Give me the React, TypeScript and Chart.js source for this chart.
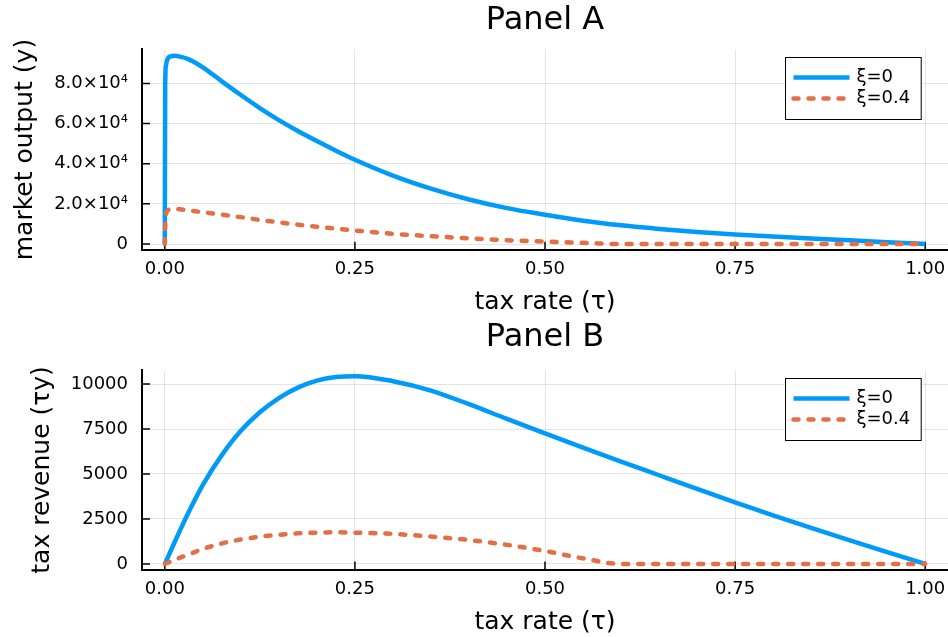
import React, { useEffect, useRef } from 'react';
import { Chart, registerables } from 'chart.js';

Chart.register(...registerables);

// ---- data ----
const tau = [0, 0.0005, 0.0015, 0.004, 0.008, 0.013, 0.02, 0.03, 0.05, 0.075, 0.1, 0.125, 0.15, 0.175, 0.2, 0.225, 0.25, 0.3, 0.35, 0.4, 0.45, 0.5, 0.55, 0.6, 0.65, 0.7, 0.75, 0.8, 0.85, 0.9, 0.95, 1.0];
const outputXi0 = [0, 79000, 89000, 92500, 93500, 93700, 93300, 92200, 88000, 81000, 74200, 67700, 61700, 56300, 51300, 46500, 42000, 34100, 27600, 22200, 17900, 14600, 11600, 9300, 7500, 6000, 4800, 3750, 2800, 1870, 930, 0];
const outputXi04 = [0, 9000, 14500, 16800, 17300, 17400, 17300, 16800, 15850, 14600, 13400, 12000, 10800, 9650, 8650, 7650, 6750, 5100, 3900, 2850, 1900, 1200, 600, 0, 0, 0, 0, 0, 0, 0, 0, 0];
const revenueXi0 = [0, 40, 134, 370, 748, 1218, 1866, 2766, 4400, 6050, 7400, 8430, 9220, 9800, 10190, 10390, 10440, 10160, 9640, 8880, 8060, 7260, 6470, 5690, 4930, 4170, 3420, 2700, 2000, 1320, 660, 0];
const revenueXi04 = [0, 5, 22, 67, 138, 226, 346, 504, 830, 1140, 1360, 1510, 1620, 1700, 1740, 1760, 1740, 1670, 1520, 1330, 1060, 720, 310, 0, 0, 0, 0, 0, 0, 0, 0, 0];
const seriesLabels = ['ξ=0', 'ξ=0.4'];
const xTicks = [0, 0.25, 0.5, 0.75, 1.0];
const outputTicks = [0, 20000, 40000, 60000, 80000];
const revenueTicks = [0, 2500, 5000, 7500, 10000];

const FAMILY = "'DejaVu Sans', 'Liberation Sans', sans-serif";
const BLUE = '#009AFA';
const ORANGE = '#E36F47';

type PanelCfg = {
  title: string;
  ylabel: string;
  s0: number[];
  s1: number[];
  yTicks: number[];
  yMin: number;
  yMax: number;
  yFmt: (v: number) => string;
  padTop: number;
  xHeight: number;
  titleY: number;
  xTitlePad: number;
  yTitlePad: number;
};

function makeDecor(p: PanelCfg) {
  return {
    id: 'decor',
    beforeDatasetsDraw(chart: any) {
      const { ctx, chartArea: ca, scales } = chart;
      ctx.save();
      ctx.strokeStyle = '#000';
      ctx.lineWidth = 1.5;
      ctx.beginPath();
      for (const v of xTicks) {
        const px = scales.x.getPixelForValue(v);
        ctx.moveTo(px, ca.bottom);
        ctx.lineTo(px, ca.bottom - 8);
      }
      for (const v of p.yTicks) {
        const py = scales.y.getPixelForValue(v);
        ctx.moveTo(ca.left, py);
        ctx.lineTo(ca.left + 8, py);
      }
      ctx.stroke();
      ctx.restore();
    },
    afterDraw(chart: any) {
      const { ctx, chartArea: ca } = chart;
      ctx.save();
      // title
      ctx.fillStyle = '#000';
      ctx.font = `32px ${FAMILY}`;
      ctx.textAlign = 'center';
      ctx.textBaseline = 'middle';
      ctx.fillText(p.title, (ca.left + ca.right) / 2, p.titleY);
      // legend
      const w = 135.7;
      const h = 62;
      const x0 = Math.round(ca.right - 27 - w) + 0.5;
      const y0 = Math.round(ca.top + 7.5) + 0.5;
      ctx.fillStyle = '#fff';
      ctx.fillRect(x0, y0, w, h);
      ctx.strokeStyle = '#000';
      ctx.lineWidth = 1;
      ctx.strokeRect(x0, y0, w, h);
      chart.data.datasets.forEach((ds: any, i: number) => {
        const ly = y0 + 20 + i * 21;
        ctx.save();
        ctx.strokeStyle = ds.borderColor;
        ctx.lineWidth = ds.borderWidth;
        ctx.lineCap = ds.borderCapStyle || 'butt';
        ctx.setLineDash(ds.borderDash || []);
        ctx.beginPath();
        ctx.moveTo(x0 + 8, ly);
        ctx.lineTo(x0 + 64, ly);
        ctx.stroke();
        ctx.restore();
        ctx.fillStyle = '#000';
        ctx.font = `18px ${FAMILY}`;
        ctx.textAlign = 'left';
        ctx.textBaseline = 'middle';
        ctx.fillText(ds.label, x0 + 71, ly);
      });
      ctx.restore();
    },
  };
}

function buildChart(canvas: HTMLCanvasElement, p: PanelCfg) {
  return new Chart(canvas, {
    type: 'line',
    data: {
      datasets: [
        {
          label: seriesLabels[0],
          data: tau.map((t, i) => ({ x: t, y: p.s0[i] })),
          borderColor: BLUE,
          backgroundColor: BLUE,
          borderWidth: 4.5,
          borderCapStyle: 'butt',
          borderJoinStyle: 'round',
          pointRadius: 0,
          cubicInterpolationMode: 'monotone',
          order: 2,
        },
        {
          label: seriesLabels[1],
          data: tau.map((t, i) => ({ x: t, y: p.s1[i] })),
          borderColor: ORANGE,
          backgroundColor: ORANGE,
          borderWidth: 4.5,
          borderDash: [5, 10],
          borderCapStyle: 'round',
          borderJoinStyle: 'round',
          pointRadius: 0,
          cubicInterpolationMode: 'monotone',
          order: 1,
        },
      ],
    },
    options: {
      responsive: false,
      animation: false,
      devicePixelRatio: 1,
      layout: { padding: { top: p.padTop, left: 0, right: 0, bottom: 0 } },
      plugins: {
        legend: { display: false },
        tooltip: { enabled: false },
        title: { display: false },
      },
      scales: {
        x: {
          type: 'linear',
          min: -0.03,
          max: 1.03,
          afterBuildTicks: (s: any) => {
            s.ticks = xTicks.map((v) => ({ value: v }));
          },
          afterFit: (s: any) => {
            s.height = p.xHeight;
            s.paddingLeft = 0;
            s.paddingRight = 0;
          },
          grid: { color: 'rgba(0,0,0,0.1)', lineWidth: 1, drawTicks: false },
          border: { display: true, color: '#000', width: 2 },
          ticks: {
            color: '#000',
            font: { family: FAMILY, size: 18 },
            padding: 9,
            maxRotation: 0,
            autoSkip: false,
            callback: (v: any) => Number(v).toFixed(2),
          },
          title: {
            display: true,
            text: 'tax rate (τ)',
            color: '#000',
            font: { family: FAMILY, size: 25 },
            padding: { top: 0, bottom: p.xTitlePad },
          },
        },
        y: {
          type: 'linear',
          min: p.yMin,
          max: p.yMax,
          afterBuildTicks: (s: any) => {
            s.ticks = p.yTicks.map((v) => ({ value: v }));
          },
          afterFit: (s: any) => {
            s.width = 142;
            s.paddingTop = 0;
            s.paddingBottom = 0;
          },
          grid: { color: 'rgba(0,0,0,0.1)', lineWidth: 1, drawTicks: false },
          border: { display: true, color: '#000', width: 2 },
          ticks: {
            color: '#000',
            font: { family: FAMILY, size: 18 },
            padding: 14,
            autoSkip: false,
            callback: (v: any) => p.yFmt(Number(v)),
          },
          title: {
            display: true,
            text: p.ylabel,
            color: '#000',
            font: { family: FAMILY, size: 25 },
            padding: { top: p.yTitlePad, bottom: 0 },
          },
        },
      },
    },
    plugins: [makeDecor(p)],
  } as any);
}

const panelA: PanelCfg = {
  title: 'Panel A',
  ylabel: 'market output (y)',
  s0: outputXi0,
  s1: outputXi04,
  yTicks: outputTicks,
  yMin: -2823,
  yMax: 96923,
  yFmt: (v) => (v === 0 ? '0' : `${(v / 1e4).toFixed(1)}×10⁴`),
  padTop: 49.4,
  xHeight: 68.3,
  titleY: 20.5,
  xTitlePad: 1,
  yTitlePad: 10,
};

const panelB: PanelCfg = {
  title: 'Panel B',
  ylabel: 'tax revenue (τy)',
  s0: revenueXi0,
  s1: revenueXi04,
  yTicks: revenueTicks,
  yMin: -315,
  yMax: 10765,
  yFmt: (v) => String(Math.round(v)),
  padTop: 52.3,
  xHeight: 67.4,
  titleY: 19.2,
  xTitlePad: 0,
  yTitlePad: 27.5,
};

export default function App() {
  const refA = useRef<HTMLCanvasElement | null>(null);
  const refB = useRef<HTMLCanvasElement | null>(null);

  useEffect(() => {
    const a = refA.current ? buildChart(refA.current, panelA) : null;
    const b = refB.current ? buildChart(refB.current, panelB) : null;
    return () => {
      a?.destroy();
      b?.destroy();
    };
  }, []);

  return (
    <div style={{ position: 'absolute', left: 0, top: 0, width: 948, height: 637, background: '#fff', overflow: 'hidden' }}>
      <canvas ref={refA} width={948} height={318} style={{ position: 'absolute', left: 0, top: 0, display: 'block' }} />
      <canvas ref={refB} width={948} height={319} style={{ position: 'absolute', left: 0, top: 318, display: 'block' }} />
    </div>
  );
}
